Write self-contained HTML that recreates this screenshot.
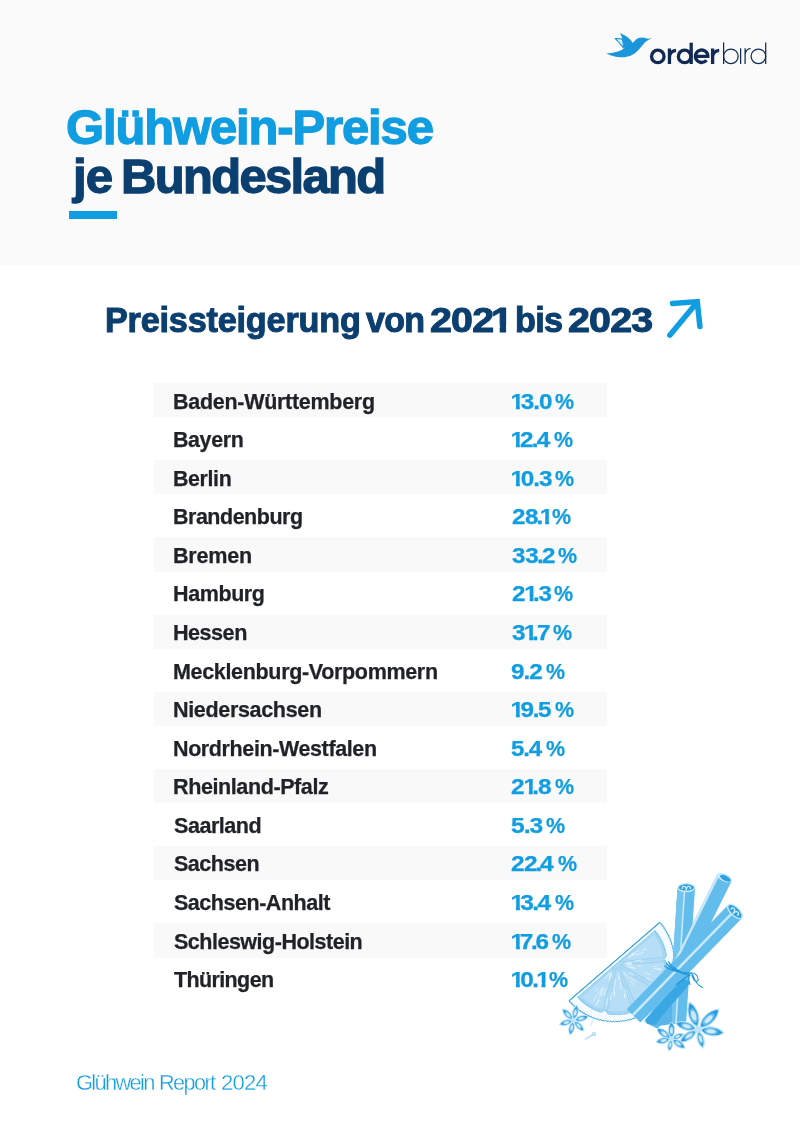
<!DOCTYPE html>
<html><head><meta charset="utf-8">
<style>
html,body{margin:0;padding:0;}
body{width:800px;height:1132px;position:relative;background:#fff;font-family:"Liberation Sans",sans-serif;overflow:hidden;}
.band{position:absolute;left:0;top:0;width:800px;height:265px;background:#fafafa;}
.bar{position:absolute;left:69px;top:210.5px;width:48.2px;height:8.5px;background:#109de1;}
.t{position:absolute;white-space:nowrap;transform-origin:0 50%;}
b{font-weight:inherit;margin:0 -0.06em}
i{font-style:normal;display:inline-block;margin:0 -0.15em 0 -0.06em;clip-path:polygon(0 0,100% 0,100% 0.73em,0.383em 0.73em,0.383em 1.1em,0.221em 1.1em,0.221em 0.73em,0 0.73em)}
.s{position:absolute;left:153.75px;width:453.25px;height:34.4px;background:#f9f9f9;}
svg{position:absolute;overflow:visible;}
#w{position:absolute;left:0;top:0;width:800px;height:1132px;will-change:transform;}
</style></head><body><div id="w">
<div class="band"></div>
<svg style="left:0;top:0" width="800" height="100" viewBox="0 0 800 100"><path d="M615.16 38.46 C615.78 38.52 617.67 38.69 618.88 38.80 C620.08 38.91 621.80 39.08 622.38 39.14 L623.94 48.25 C623.49 47.74 622.19 46.34 621.24 45.21 C620.28 44.09 619.21 42.62 618.20 41.50 C617.19 40.38 615.67 38.97 615.16 38.46Z" fill="#e3f1fa" stroke="#1b96db" stroke-width="1.1" stroke-linejoin="round"/><path d="M606.18 53.31 C607.17 53.73 609.90 55.16 612.12 55.81 C614.35 56.46 617.07 57.08 619.55 57.23 C622.02 57.37 624.61 57.24 626.98 56.69 C629.34 56.14 631.70 55.18 633.73 53.92 C635.75 52.66 637.55 50.71 639.12 49.13 C640.70 47.54 641.88 45.76 643.17 44.40 C644.47 43.04 645.29 42.05 646.89 40.96 C648.49 39.87 651.78 38.37 652.76 37.86 C652.06 38.01 649.84 38.77 648.58 38.80 C647.32 38.83 646.33 38.29 645.20 38.06 C644.08 37.82 642.95 37.38 641.83 37.38 C640.70 37.38 639.58 37.55 638.45 38.06 C637.33 38.56 636.03 39.60 635.08 40.42 C634.12 41.24 633.11 42.56 632.71 42.98 C632.32 42.46 631.31 40.85 630.35 39.81 C629.39 38.78 628.21 37.67 626.98 36.77 C625.74 35.88 624.11 35.03 622.92 34.41 C621.74 33.79 620.39 33.29 619.89 33.06 C620.13 33.57 620.96 35.09 621.37 36.10 C621.79 37.11 622.10 38.12 622.38 39.14 C622.67 40.15 622.83 41.11 623.06 42.17 C623.28 43.24 623.53 44.48 623.74 45.55 C623.94 46.62 624.18 48.08 624.27 48.59 C623.38 49.04 620.79 50.61 618.88 51.29 C616.96 51.96 614.88 52.30 612.80 52.64 C610.72 52.98 607.46 53.20 606.39 53.31Z" fill="#1b96db"/><g fill="none" stroke="#102a54" stroke-width="1.25" stroke-linecap="butt"><path d="M723.6 42.4V64"/><circle cx="730.9" cy="56.3" r="7.3"/><path d="M740.6 48.3V64"/><path d="M745.1 48.3V64M745.1 55.5C745.1 51 747.5 48.6 750.6 48.7"/><circle cx="758.4" cy="56.3" r="7.3"/><path d="M765.7 42.4V64"/></g><g fill="none" stroke="#102a54" stroke-width="3.3" stroke-linecap="butt"><circle cx="657.8" cy="56.4" r="6.25"/><path d="M669.45 48.5V64M669.45 57.2A6.6 6.6 0 0 1 676.05 50.4"/><circle cx="684.6" cy="56.4" r="6.25"/><path d="M691.2 42.7V64"/><path d="M707.9 56.4A6.25 6.25 0 1 0 706.5 60.2M695.5 56.4H709.4"/><path d="M712.6 48.5V64M712.6 57.2A6.6 6.6 0 0 1 719.2 50.4"/></g></svg>
<div class="bar"></div>
<svg style="left:0;top:0" width="800" height="400" viewBox="0 0 800 400"><path d="M672.5 303.5 L697.3 301.6 L699.9 326.6 M669.8 335.2 L696.5 303" stroke="#109de1" stroke-width="5.5" fill="none" stroke-linecap="round" stroke-linejoin="miter"/></svg>

<div class='s' style='top:382.9px'></div>
<div class='s' style='top:460.1px'></div>
<div class='s' style='top:537.3px'></div>
<div class='s' style='top:614.5px'></div>
<div class='s' style='top:691.7px'></div>
<div class='s' style='top:768.9px'></div>
<div class='s' style='top:846.1px'></div>
<div class='s' style='top:923.3px'></div>
<div class='t' style='left:66.08px;top:97.82px;line-height:59px;color:#109de1;font-size:49px;font-weight:bold;letter-spacing:-1.152px;-webkit-text-stroke:1.3px currentColor;transform:scaleX(1.0004)'>Glühwein-Preise</div>
<div class='t' style='left:73.42px;top:146.82px;line-height:59px;color:#0b3f6f;font-size:49px;font-weight:bold;letter-spacing:-0.806px;-webkit-text-stroke:1.3px currentColor;transform:scaleX(1.0035)'>je</div>
<div class='t' style='left:121.37px;top:146.82px;line-height:59px;color:#0b3f6f;font-size:49px;font-weight:bold;letter-spacing:-1.673px;-webkit-text-stroke:1.3px currentColor;transform:scaleX(0.9992)'>Bundesland</div>
<div class='t' style='left:105.00px;top:300.45px;line-height:41px;color:#0b3f6f;font-size:34.2px;font-weight:bold;letter-spacing:-0.207px;-webkit-text-stroke:1px currentColor;transform:scaleX(1.0012)'>Preissteigerung</div>
<div class='t' style='left:366.00px;top:300.45px;line-height:41px;color:#0b3f6f;font-size:34.2px;font-weight:bold;letter-spacing:-0.710px;-webkit-text-stroke:1px currentColor;transform:scaleX(0.9946)'>von</div>
<div class='t' style='left:430.47px;top:300.45px;line-height:41px;color:#0b3f6f;font-size:34.2px;font-weight:bold;letter-spacing:-0.654px;-webkit-text-stroke:1px currentColor;transform:scaleX(1.1502)'>202<i>1</i></div>
<div class='t' style='left:514.50px;top:300.45px;line-height:41px;color:#0b3f6f;font-size:34.2px;font-weight:bold;letter-spacing:-0.701px;-webkit-text-stroke:1px currentColor;transform:scaleX(1.0004)'>bis</div>
<div class='t' style='left:568.47px;top:300.45px;line-height:41px;color:#0b3f6f;font-size:34.2px;font-weight:bold;letter-spacing:-0.724px;-webkit-text-stroke:1px currentColor;transform:scaleX(1.1523)'>2023</div>
<div class='t' style='left:172.97px;top:388.55px;line-height:26px;color:#1f2226;font-size:21.5px;font-weight:bold;letter-spacing:-0.283px;-webkit-text-stroke:0.25px currentColor;transform:scaleX(0.9997)'>Baden-Württemberg</div>
<div class='t' style='left:512.30px;top:388.55px;line-height:26px;color:#109de1;font-size:21.5px;font-weight:bold;letter-spacing:0.346px;-webkit-text-stroke:0.25px currentColor;transform:scaleX(1.1267)'><i>1</i>3<b>.</b>0</div>
<div class='t' style='left:555.43px;top:388.55px;line-height:26px;color:#109de1;font-size:21.5px;font-weight:bold;letter-spacing:0.000px;-webkit-text-stroke:0.25px currentColor;transform:scaleX(0.9985)'>%</div>
<div class='t' style='left:172.98px;top:427.12px;line-height:26px;color:#1f2226;font-size:21.5px;font-weight:bold;letter-spacing:-0.371px;-webkit-text-stroke:0.25px currentColor;transform:scaleX(0.9954)'>Bayern</div>
<div class='t' style='left:512.30px;top:427.12px;line-height:26px;color:#109de1;font-size:21.5px;font-weight:bold;letter-spacing:-0.314px;-webkit-text-stroke:0.25px currentColor;transform:scaleX(1.1292)'><i>1</i>2<b>.</b>4</div>
<div class='t' style='left:554.23px;top:427.12px;line-height:26px;color:#109de1;font-size:21.5px;font-weight:bold;letter-spacing:0.000px;-webkit-text-stroke:0.25px currentColor;transform:scaleX(0.9985)'>%</div>
<div class='t' style='left:172.98px;top:465.69px;line-height:26px;color:#1f2226;font-size:21.5px;font-weight:bold;letter-spacing:-0.371px;-webkit-text-stroke:0.25px currentColor;transform:scaleX(0.9944)'>Berlin</div>
<div class='t' style='left:512.30px;top:465.69px;line-height:26px;color:#109de1;font-size:21.5px;font-weight:bold;letter-spacing:0.321px;-webkit-text-stroke:0.25px currentColor;transform:scaleX(1.1296)'><i>1</i>0<b>.</b>3</div>
<div class='t' style='left:555.43px;top:465.69px;line-height:26px;color:#109de1;font-size:21.5px;font-weight:bold;letter-spacing:0.000px;-webkit-text-stroke:0.25px currentColor;transform:scaleX(0.9985)'>%</div>
<div class='t' style='left:172.97px;top:504.26px;line-height:26px;color:#1f2226;font-size:21.5px;font-weight:bold;letter-spacing:-0.489px;-webkit-text-stroke:0.25px currentColor;transform:scaleX(0.9995)'>Brandenburg</div>
<div class='t' style='left:511.50px;top:504.26px;line-height:26px;color:#109de1;font-size:21.5px;font-weight:bold;letter-spacing:-0.455px;-webkit-text-stroke:0.25px currentColor;transform:scaleX(1.1236)'>28<b>.</b><i>1</i></div>
<div class='t' style='left:552.03px;top:504.26px;line-height:26px;color:#109de1;font-size:21.5px;font-weight:bold;letter-spacing:0.000px;-webkit-text-stroke:0.25px currentColor;transform:scaleX(0.9985)'>%</div>
<div class='t' style='left:172.96px;top:542.83px;line-height:26px;color:#1f2226;font-size:21.5px;font-weight:bold;letter-spacing:-0.262px;-webkit-text-stroke:0.25px currentColor;transform:scaleX(1.0043)'>Bremen</div>
<div class='t' style='left:511.54px;top:542.83px;line-height:26px;color:#109de1;font-size:21.5px;font-weight:bold;letter-spacing:-0.253px;-webkit-text-stroke:0.25px currentColor;transform:scaleX(1.1237)'>33<b>.</b>2</div>
<div class='t' style='left:557.63px;top:542.83px;line-height:26px;color:#109de1;font-size:21.5px;font-weight:bold;letter-spacing:0.000px;-webkit-text-stroke:0.25px currentColor;transform:scaleX(0.9985)'>%</div>
<div class='t' style='left:172.97px;top:581.40px;line-height:26px;color:#1f2226;font-size:21.5px;font-weight:bold;letter-spacing:-0.389px;-webkit-text-stroke:0.25px currentColor;transform:scaleX(0.9993)'>Hamburg</div>
<div class='t' style='left:511.50px;top:581.40px;line-height:26px;color:#109de1;font-size:21.5px;font-weight:bold;letter-spacing:0.237px;-webkit-text-stroke:0.25px currentColor;transform:scaleX(1.1232)'>2<i>1</i><b>.</b>3</div>
<div class='t' style='left:554.23px;top:581.40px;line-height:26px;color:#109de1;font-size:21.5px;font-weight:bold;letter-spacing:0.000px;-webkit-text-stroke:0.25px currentColor;transform:scaleX(0.9985)'>%</div>
<div class='t' style='left:172.96px;top:619.97px;line-height:26px;color:#1f2226;font-size:21.5px;font-weight:bold;letter-spacing:-0.502px;-webkit-text-stroke:0.25px currentColor;transform:scaleX(1.0047)'>Hessen</div>
<div class='t' style='left:511.53px;top:619.97px;line-height:26px;color:#109de1;font-size:21.5px;font-weight:bold;letter-spacing:-0.250px;-webkit-text-stroke:0.25px currentColor;transform:scaleX(1.1312)'>3<i>1</i><b>.</b>7</div>
<div class='t' style='left:552.53px;top:619.97px;line-height:26px;color:#109de1;font-size:21.5px;font-weight:bold;letter-spacing:0.000px;-webkit-text-stroke:0.25px currentColor;transform:scaleX(0.9985)'>%</div>
<div class='t' style='left:172.97px;top:658.54px;line-height:26px;color:#1f2226;font-size:21.5px;font-weight:bold;letter-spacing:-0.336px;-webkit-text-stroke:0.25px currentColor;transform:scaleX(1.0005)'>Mecklenburg-Vorpommern</div>
<div class='t' style='left:511.46px;top:658.54px;line-height:26px;color:#109de1;font-size:21.5px;font-weight:bold;letter-spacing:0.406px;-webkit-text-stroke:0.25px currentColor;transform:scaleX(1.1263)'>9<b>.</b>2</div>
<div class='t' style='left:545.83px;top:658.54px;line-height:26px;color:#109de1;font-size:21.5px;font-weight:bold;letter-spacing:0.000px;-webkit-text-stroke:0.25px currentColor;transform:scaleX(0.9985)'>%</div>
<div class='t' style='left:172.97px;top:697.11px;line-height:26px;color:#1f2226;font-size:21.5px;font-weight:bold;letter-spacing:-0.337px;-webkit-text-stroke:0.25px currentColor;transform:scaleX(1.0009)'>Niedersachsen</div>
<div class='t' style='left:512.30px;top:697.11px;line-height:26px;color:#109de1;font-size:21.5px;font-weight:bold;letter-spacing:0.090px;-webkit-text-stroke:0.25px currentColor;transform:scaleX(1.1285)'><i>1</i>9<b>.</b>5</div>
<div class='t' style='left:554.83px;top:697.11px;line-height:26px;color:#109de1;font-size:21.5px;font-weight:bold;letter-spacing:0.000px;-webkit-text-stroke:0.25px currentColor;transform:scaleX(0.9985)'>%</div>
<div class='t' style='left:172.97px;top:735.68px;line-height:26px;color:#1f2226;font-size:21.5px;font-weight:bold;letter-spacing:-0.384px;-webkit-text-stroke:0.25px currentColor;transform:scaleX(0.9994)'>Nordrhein-Westfalen</div>
<div class='t' style='left:511.49px;top:735.68px;line-height:26px;color:#109de1;font-size:21.5px;font-weight:bold;letter-spacing:0.259px;-webkit-text-stroke:0.25px currentColor;transform:scaleX(1.1183)'>5<b>.</b>4</div>
<div class='t' style='left:546.33px;top:735.68px;line-height:26px;color:#109de1;font-size:21.5px;font-weight:bold;letter-spacing:0.000px;-webkit-text-stroke:0.25px currentColor;transform:scaleX(0.9985)'>%</div>
<div class='t' style='left:172.97px;top:774.25px;line-height:26px;color:#1f2226;font-size:21.5px;font-weight:bold;letter-spacing:-0.421px;-webkit-text-stroke:0.25px currentColor;transform:scaleX(1.0026)'>Rheinland-Pfalz</div>
<div class='t' style='left:511.49px;top:774.25px;line-height:26px;color:#109de1;font-size:21.5px;font-weight:bold;letter-spacing:0.323px;-webkit-text-stroke:0.25px currentColor;transform:scaleX(1.1337)'>2<i>1</i><b>.</b>8</div>
<div class='t' style='left:554.83px;top:774.25px;line-height:26px;color:#109de1;font-size:21.5px;font-weight:bold;letter-spacing:0.000px;-webkit-text-stroke:0.25px currentColor;transform:scaleX(0.9985)'>%</div>
<div class='t' style='left:173.63px;top:812.82px;line-height:26px;color:#1f2226;font-size:21.5px;font-weight:bold;letter-spacing:-0.479px;-webkit-text-stroke:0.25px currentColor;transform:scaleX(1.0016)'>Saarland</div>
<div class='t' style='left:511.47px;top:812.82px;line-height:26px;color:#109de1;font-size:21.5px;font-weight:bold;letter-spacing:0.461px;-webkit-text-stroke:0.25px currentColor;transform:scaleX(1.1424)'>5<b>.</b>3</div>
<div class='t' style='left:546.33px;top:812.82px;line-height:26px;color:#109de1;font-size:21.5px;font-weight:bold;letter-spacing:0.000px;-webkit-text-stroke:0.25px currentColor;transform:scaleX(0.9985)'>%</div>
<div class='t' style='left:173.63px;top:851.39px;line-height:26px;color:#1f2226;font-size:21.5px;font-weight:bold;letter-spacing:-0.498px;-webkit-text-stroke:0.25px currentColor;transform:scaleX(1.0009)'>Sachsen</div>
<div class='t' style='left:511.48px;top:851.39px;line-height:26px;color:#109de1;font-size:21.5px;font-weight:bold;letter-spacing:-0.606px;-webkit-text-stroke:0.25px currentColor;transform:scaleX(1.1400)'>22<b>.</b>4</div>
<div class='t' style='left:557.63px;top:851.39px;line-height:26px;color:#109de1;font-size:21.5px;font-weight:bold;letter-spacing:0.000px;-webkit-text-stroke:0.25px currentColor;transform:scaleX(0.9985)'>%</div>
<div class='t' style='left:173.63px;top:889.96px;line-height:26px;color:#1f2226;font-size:21.5px;font-weight:bold;letter-spacing:-0.466px;-webkit-text-stroke:0.25px currentColor;transform:scaleX(0.9999)'>Sachsen-Anhalt</div>
<div class='t' style='left:512.30px;top:889.96px;line-height:26px;color:#109de1;font-size:21.5px;font-weight:bold;letter-spacing:-0.200px;-webkit-text-stroke:0.25px currentColor;transform:scaleX(1.1408)'><i>1</i>3<b>.</b>4</div>
<div class='t' style='left:554.83px;top:889.96px;line-height:26px;color:#109de1;font-size:21.5px;font-weight:bold;letter-spacing:0.000px;-webkit-text-stroke:0.25px currentColor;transform:scaleX(0.9985)'>%</div>
<div class='t' style='left:173.63px;top:928.53px;line-height:26px;color:#1f2226;font-size:21.5px;font-weight:bold;letter-spacing:-0.497px;-webkit-text-stroke:0.25px currentColor;transform:scaleX(1.0004)'>Schleswig-Holstein</div>
<div class='t' style='left:512.30px;top:928.53px;line-height:26px;color:#109de1;font-size:21.5px;font-weight:bold;letter-spacing:-0.687px;-webkit-text-stroke:0.25px currentColor;transform:scaleX(1.1293)'><i>1</i>7<b>.</b>6</div>
<div class='t' style='left:552.03px;top:928.53px;line-height:26px;color:#109de1;font-size:21.5px;font-weight:bold;letter-spacing:0.000px;-webkit-text-stroke:0.25px currentColor;transform:scaleX(0.9985)'>%</div>
<div class='t' style='left:174.39px;top:967.10px;line-height:26px;color:#1f2226;font-size:21.5px;font-weight:bold;letter-spacing:-0.638px;-webkit-text-stroke:0.25px currentColor;transform:scaleX(1.0012)'>Thüringen</div>
<div class='t' style='left:512.30px;top:967.10px;line-height:26px;color:#109de1;font-size:21.5px;font-weight:bold;letter-spacing:-0.052px;-webkit-text-stroke:0.25px currentColor;transform:scaleX(1.1287)'><i>1</i>0<b>.</b><i>1</i></div>
<div class='t' style='left:549.13px;top:967.10px;line-height:26px;color:#109de1;font-size:21.5px;font-weight:bold;letter-spacing:0.000px;-webkit-text-stroke:0.25px currentColor;transform:scaleX(0.9985)'>%</div>
<div class='t' style='left:75.80px;top:1070.05px;line-height:26px;color:#109de1;font-size:21.8px;font-weight:normal;letter-spacing:-1.699px;-webkit-text-stroke:0.35px #fff;transform:scaleX(1.0046)'>Glühwein</div>
<div class='t' style='left:158.57px;top:1070.05px;line-height:26px;color:#109de1;font-size:21.8px;font-weight:normal;letter-spacing:-1.605px;-webkit-text-stroke:0.35px #fff;transform:scaleX(0.9946)'>Report</div>
<div class='t' style='left:220.94px;top:1070.05px;line-height:26px;color:#109de1;font-size:21.8px;font-weight:normal;letter-spacing:-0.769px;-webkit-text-stroke:0.35px #fff;transform:scaleX(1.0143)'>2024</div>
<svg style="left:0;top:0" width="800" height="1132" viewBox="0 0 800 1132"><polygon points="659.4,922.7 661.1,923.0 661.0,924.6 662.6,925.0 662.5,926.6 664.1,927.0 663.9,928.7 665.5,929.1 665.3,930.8 666.8,931.3 666.5,932.9 668.1,933.5 667.7,935.1 669.2,935.8 668.7,937.4 670.2,938.1 669.7,939.7 671.2,940.5 670.6,942.0 672.0,942.9 671.3,944.4 672.7,945.3 672.0,946.8 673.4,947.7 672.6,949.2 673.9,950.2 673.0,951.7 674.3,952.7 673.4,954.1 674.6,955.2 673.7,956.6 674.9,957.8 673.8,959.1 675.0,960.3 673.9,961.6 675.0,962.8 673.8,964.1 674.9,965.4 673.7,966.6 674.6,967.9 673.4,969.0 674.3,970.4 673.0,971.5 673.9,972.9 672.6,973.9 673.4,975.4 672.0,976.4 672.7,977.9 671.3,978.8 672.0,980.3 670.6,981.1 671.2,982.7 669.7,983.5 670.3,985.0 668.7,985.8 669.2,987.4 667.7,988.0 668.1,989.6 666.5,990.2 666.9,991.9 665.3,992.4 665.6,994.0 664.0,994.5 664.2,996.1 662.5,996.5 662.7,998.2 661.0,998.5 661.1,1000.2 659.4,1000.4 659.4,1002.1 657.8,1002.3 657.7,1004.0 656.0,1004.1 655.9,1005.7 654.2,1005.8 654.0,1007.4 652.3,1007.4 652.0,1009.1 650.4,1009.0 650.0,1010.6 648.4,1010.4 647.9,1012.0 646.3,1011.8 645.8,1013.4 644.2,1013.1 643.6,1014.7 642.0,1014.3 641.4,1015.8 639.7,1015.4 639.1,1016.9 637.5,1016.4 636.7,1017.9 635.2,1017.3 634.3,1018.8 632.8,1018.2 631.9,1019.6 630.4,1018.9 629.5,1020.3 628.0,1019.5 627.0,1020.8 625.6,1020.0 624.5,1021.3 623.1,1020.4 622.0,1021.7 620.6,1020.7 619.5,1022.0 618.2,1021.0 617.0,1022.1 615.7,1021.1 614.4,1022.2 613.2,1021.1 611.9,1022.1 610.7,1021.0 609.4,1022.0 608.2,1020.7 606.8,1021.7 605.7,1020.4 604.3,1021.3 603.3,1020.0 601.8,1020.9 600.8,1019.5 599.4,1020.3 598.4,1018.9 596.9,1019.6 596.0,1018.2 594.5,1018.8 593.7,1017.4 592.1,1017.9 591.4,1016.4 589.8,1016.9 589.1,1015.4 587.5,1015.9 586.9,1014.3 585.2,1014.7 584.7,1013.1 583.0,1013.4 582.6,1011.8 580.9,1012.1 580.5,1010.5 578.8,1010.6 578.5,1009.0 576.8,1009.1 576.5,1007.4 574.8,1007.5 574.6,1005.8 573.0,1005.8 572.8,1004.1 571.1,1004.0 571.1,1002.3 569.4,1002.2 569.4,1000.5" fill="#f4fafe" stroke="#36a3e4" stroke-width="0.95" stroke-linejoin="round"/><polygon points="655.1,929.9 656.0,930.9 656.8,932.0 657.6,933.0 658.4,934.1 659.1,935.3 659.9,936.4 660.6,937.6 661.2,938.7 661.9,939.9 662.5,941.1 663.0,942.3 663.6,943.6 664.1,944.8 664.6,946.1 665.0,947.4 665.4,948.7 665.8,950.0 666.1,951.3 666.4,952.6 666.7,953.9 666.9,955.2 666.4,956.7 665.4,958.1 664.4,959.5 665.7,960.7 666.8,962.0 667.6,963.3 667.6,964.6 667.6,966.0 667.5,967.3 667.4,968.7 667.2,970.0 667.0,971.3 666.8,972.7 666.6,974.0 666.3,975.3 665.9,976.6 665.6,977.9 665.2,979.2 664.8,980.5 664.3,981.8 663.8,983.0 663.3,984.3 662.7,985.5 662.1,986.7 660.8,987.5 659.2,988.1 657.6,988.7 657.9,990.4 658.1,992.1 658.0,993.6 657.2,994.7 656.3,995.8 655.5,996.8 654.6,997.8 653.7,998.8 652.7,999.8 651.8,1000.7 650.8,1001.7 649.8,1002.6 648.7,1003.4 647.7,1004.3 646.6,1005.1 645.5,1005.9 644.4,1006.6 643.3,1007.3 642.1,1008.0 640.9,1008.7 639.7,1009.3 638.2,1009.3 636.5,1008.8 634.9,1008.3 634.2,1009.8 633.3,1011.3 632.3,1012.5 631.0,1012.9 629.7,1013.3 628.4,1013.6 627.1,1013.9 625.8,1014.2 624.4,1014.4 623.1,1014.6 621.8,1014.8 620.4,1014.9 619.1,1015.0 617.7,1015.1 616.4,1015.1 615.0,1015.1 613.7,1015.0 612.3,1015.0 611.0,1014.8 609.7,1014.7 608.3,1014.5 607.1,1013.5 606.1,1012.2 605.0,1010.8 603.5,1011.6 602.0,1012.3 600.5,1012.7 599.2,1012.2 597.9,1011.8 596.7,1011.3 595.4,1010.8 594.2,1010.2 593.0,1009.6 591.8,1009.0 590.6,1008.3 589.4,1007.6 588.3,1006.9 587.2,1006.2 586.1,1005.4 585.0,1004.6 583.9,1003.8 582.9,1002.9 581.8,1002.0 580.8,1001.1 579.9,1000.2 578.9,999.2 578.0,998.3 577.1,997.2" fill="#8ecdf0" /><polygon points="654.1,931.8 654.9,932.8 655.7,933.8 656.5,934.8 657.3,935.9 658.0,937.0 658.7,938.1 659.4,939.2 660.0,940.3 660.6,941.4 661.2,942.6 661.7,943.8 662.3,945.0 662.8,946.2 663.2,947.4 663.6,948.6 664.0,949.8 664.4,951.1 664.7,952.3 665.0,953.6 665.3,954.9 665.5,956.2 664.9,957.5 664.0,958.9 663.0,960.3 664.2,961.4 665.4,962.6 666.1,963.9 666.1,965.2 666.1,966.5 666.0,967.8 665.9,969.1 665.8,970.4 665.6,971.6 665.4,972.9 665.1,974.2 664.8,975.5 664.5,976.7 664.2,978.0 663.8,979.2 663.4,980.4 663.0,981.7 662.5,982.9 662.0,984.1 661.4,985.2 660.9,986.4 659.6,987.2 658.0,987.8 656.4,988.3 656.7,989.9 657.0,991.6 656.8,993.1 656.1,994.1 655.3,995.1 654.5,996.1 653.6,997.1 652.7,998.1 651.8,999.0 650.9,999.9 650.0,1000.8 649.0,1001.6 648.0,1002.5 647.0,1003.3 646.0,1004.1 644.9,1004.8 643.8,1005.6 642.7,1006.2 641.6,1006.9 640.5,1007.6 639.4,1008.2 637.9,1008.1 636.2,1007.6 634.7,1007.0 633.9,1008.6 633.2,1010.0 632.2,1011.2 631.0,1011.6 629.7,1011.9 628.5,1012.3 627.2,1012.6 625.9,1012.8 624.6,1013.0 623.4,1013.2 622.1,1013.4 620.8,1013.5 619.5,1013.6 618.2,1013.7 616.9,1013.7 615.6,1013.7 614.3,1013.6 613.0,1013.6 611.7,1013.5 610.4,1013.3 609.2,1013.1 608.0,1012.2 607.0,1010.8 606.0,1009.5 604.6,1010.3 603.0,1011.0 601.6,1011.4 600.4,1010.9 599.1,1010.5 597.9,1010.0 596.7,1009.5 595.6,1009.0 594.4,1008.4 593.2,1007.8 592.1,1007.2 591.0,1006.5 589.9,1005.9 588.8,1005.1 587.7,1004.4 586.7,1003.6 585.7,1002.8 584.7,1002.0 583.7,1001.2 582.7,1000.3 581.8,999.4 580.9,998.5 580.0,997.5 579.2,996.5" fill="#b1dbf5" /><polygon points="619.8,962.0 654.4,933.7 655.9,935.8 657.3,937.9 658.6,940.1 659.8,942.4 660.8,944.7 661.8,947.1 662.6,949.6 663.2,952.0 663.8,954.5 664.2,957.1" fill="#b6def6" stroke="#93cff1" stroke-width="0.8" stroke-linejoin="round"/><polygon points="620.0,964.5 664.6,961.9 664.6,964.5 664.5,967.0 664.2,969.6 663.9,972.1 663.3,974.6 662.7,977.1 661.9,979.5 661.0,981.9 660.0,984.3 658.8,986.6" fill="#b6def6" stroke="#93cff1" stroke-width="0.8" stroke-linejoin="round"/><polygon points="618.7,966.6 656.3,990.7 654.8,992.8 653.2,994.8 651.5,996.7 649.7,998.6 647.8,1000.3 645.8,1001.9 643.8,1003.4 641.6,1004.8 639.4,1006.1 637.1,1007.3" fill="#b6def6" stroke="#93cff1" stroke-width="0.8" stroke-linejoin="round"/><polygon points="616.4,967.6 632.7,1009.2 630.2,1010.0 627.8,1010.7 625.3,1011.2 622.7,1011.6 620.2,1011.9 617.6,1012.1 615.1,1012.1 612.5,1012.0 610.0,1011.7 607.4,1011.3" fill="#b6def6" stroke="#93cff1" stroke-width="0.8" stroke-linejoin="round"/><polygon points="614.0,967.0 602.7,1010.2 600.2,1009.4 597.8,1008.5 595.5,1007.5 593.2,1006.3 591.0,1005.1 588.8,1003.7 586.8,1002.2 584.8,1000.6 582.8,998.9 581.0,997.1" fill="#b6def6" stroke="#93cff1" stroke-width="0.8" stroke-linejoin="round"/><path d="M627.6 964.6L632.5 964.9M636.1 955.1L643.2 952.5M615.2 979.1L615.1 984.8M627.7 962.5L631.7 962.4M607.6 998.0L606.4 1004.9M644.1 972.4L650.3 974.9M611.9 973.7L609.5 979.2M625.1 974.4L628.8 978.3M596.6 995.5L593.9 1000.6M603.6 988.0L599.8 994.4M630.1 980.6L634.0 985.2M634.3 961.3L641.3 959.9M642.4 950.6L646.4 948.7M630.2 977.3L636.1 982.7M628.4 972.0L633.5 975.4M646.3 977.8L650.5 979.8M611.0 973.8L609.7 976.8M614.5 992.5L614.4 996.7M639.6 961.7L642.9 961.7M599.0 1000.3L595.4 1005.9M631.4 954.4L638.3 950.6M649.2 986.1L653.9 990.1M630.1 967.3L635.3 968.3M651.5 983.6L656.0 985.1M628.4 957.4L634.6 954.2M627.1 966.4L634.7 968.3M626.1 963.7L629.4 963.5M618.7 976.4L619.3 979.5M657.7 969.0L661.3 969.5M614.3 985.4L613.7 993.3M637.9 966.0L641.1 966.2M654.0 968.5L661.1 969.4M630.7 955.6L634.3 953.3M653.6 966.5L657.3 966.1M602.3 987.1L598.4 994.0M602.9 990.8L599.6 996.9M623.5 971.9L626.1 975.1M599.0 999.1L596.8 1003.2M611.4 993.1L610.3 1000.0M624.3 993.8L624.8 998.2M610.1 972.2L605.3 978.4M618.2 972.8L620.1 980.1M597.6 988.1L596.0 991.0M624.7 989.5L626.3 996.1M624.2 963.9L631.8 963.9M611.7 974.7L608.9 981.1M606.1 988.4L603.7 995.4M620.2 982.4L621.5 989.7" stroke="#ecf7fd" stroke-width="0.75" fill="none" stroke-linecap="round"/><path d="M659.8 922.4L569.0 1000.8" stroke="#36a3e4" stroke-width="1.1" fill="none"/><polygon points="677.5,888.0 695.0,888.0 686.0,1024.0 668.6,1024.0" fill="#62bcec" /><polygon points="677.5,888.0 684.0,888.0 675.4,1024.0 668.6,1024.0" fill="#74c5ee" /><path d="M684.6 890L675.9 1024" stroke="#c9e8f9" stroke-width="1.6"/><ellipse cx="686.3" cy="887.6" rx="8.3" ry="3.9" fill="#2ea1e3" stroke="#cdeafa" stroke-width="1.3"/><path d="M682.3 888.6c-1.2-2.2 2.6-3.2 3.6-0.6l0.4 2.2l0.4-2.2c1-2.6 4.8-1.6 3.6 0.6" fill="none" stroke="#d9effb" stroke-width="1.2" stroke-linecap="round" stroke-linejoin="round"/><polygon points="717.3,874.3 731.5,881.3 658.1,1029.1 644.0,1022.1" fill="#62bcec" /><polygon points="717.3,874.3 719.5,875.4 646.1,1023.1 644.0,1022.1" fill="#c9e8f9" /><ellipse cx="724.4" cy="877.6" rx="7.9" ry="3.9" transform="rotate(26.4 724.4 877.6)" fill="#cdeafa"/><ellipse cx="725.4" cy="878.3" rx="5.9" ry="2.5" transform="rotate(26.4 725.4 878.3)" fill="#2ea1e3"/><polygon points="689.0,983.0 672.0,999.0 672.0,1024.0 656.0,1026.5 649.0,1022.0" fill="#5ab6ea" /><polygon points="682.5,978.5 645.0,1020.0 647.5,1024.0 655.5,1025.0 662.5,1015.5 687.5,986.5 690.0,982.0" fill="#3aa7e5" /><polygon points="728.1,904.9 741.9,918.3 640.4,1022.6 626.7,1009.2" fill="#62bcec" /><polygon points="733.4,910.0 735.2,911.8 633.8,1016.1 631.9,1014.3" fill="#c9e8f9" /><ellipse cx="735" cy="911.4" rx="9.3" ry="4.3" transform="rotate(44.2 735 911.4)" fill="#2ea1e3" stroke="#cdeafa" stroke-width="1.4"/><g transform="rotate(44.2 735 911.4)"><path d="M730.6 912.4c-1.3-2.4 2.9-3.5 4-0.6l0.4 2.4l0.4-2.4c1.1-2.9 5.3-1.8 4 0.6" fill="none" stroke="#d9effb" stroke-width="1.3" stroke-linecap="round" stroke-linejoin="round"/></g><path d="M665 966C668 969 677 972.5 691.3 973.1M668.7 961.9C670 965 677 971 686 973.8M666.5 963.5C670 968 680 973.5 690 975.5" fill="none" stroke="#1f97de" stroke-width="1.25" stroke-linecap="round"/><path d="M691.3 973.1C694 972.5 698 975 698.1 979.4C698 982 695 982 693.5 979C692.5 977 692 975.5 691.9 975M690 973.8C688.5 977 688.5 981 690 984.4M692.5 974.4C694 979 697 985.5 702.5 987.5M688.7 975C685 978 680 982 676.2 984.4" fill="none" stroke="#1f97de" stroke-width="1.15" stroke-linecap="round"/><g transform="translate(698.0 1029.5) rotate(-17.2)"><path d="M0 -2.9 C 6.1 -8.6 6.8 -20.7 0 -28.8 C -6.8 -20.7 -6.1 -8.6 0 -2.9 Z" fill="#2d9de1" stroke="#c3e5f8" stroke-width="1.3" stroke-linejoin="round"/><ellipse cx="0" cy="-14.4" rx="3.5" ry="7.5" fill="#6fc0ed"/><ellipse cx="0" cy="-14.4" rx="2.2" ry="4.9" fill="#cdeafa"/></g><g transform="translate(698.0 1029.5) rotate(45.7)"><path d="M0 -2.9 C 6.2 -8.8 6.9 -21.1 0 -29.3 C -6.9 -21.1 -6.2 -8.8 0 -2.9 Z" fill="#2d9de1" stroke="#c3e5f8" stroke-width="1.3" stroke-linejoin="round"/><ellipse cx="0" cy="-14.7" rx="3.6" ry="7.6" fill="#6fc0ed"/><ellipse cx="0" cy="-14.7" rx="2.2" ry="5.0" fill="#cdeafa"/></g><g transform="translate(698.0 1029.5) rotate(97.7)"><path d="M0 -2.6 C 5.5 -7.9 6.2 -18.9 0 -26.2 C -6.2 -18.9 -5.5 -7.9 0 -2.6 Z" fill="#2d9de1" stroke="#c3e5f8" stroke-width="1.3" stroke-linejoin="round"/><ellipse cx="0" cy="-13.1" rx="3.2" ry="6.8" fill="#6fc0ed"/><ellipse cx="0" cy="-13.1" rx="2.0" ry="4.5" fill="#cdeafa"/></g><g transform="translate(698.0 1029.5) rotate(164.9)"><path d="M0 -1.9 C 4.1 -5.7 4.5 -13.8 0 -19.2 C -4.5 -13.8 -4.1 -5.7 0 -1.9 Z" fill="#2d9de1" stroke="#c3e5f8" stroke-width="1.3" stroke-linejoin="round"/><ellipse cx="0" cy="-9.6" rx="2.3" ry="5.0" fill="#6fc0ed"/><ellipse cx="0" cy="-9.6" rx="1.4" ry="3.3" fill="#cdeafa"/></g><g transform="translate(698.0 1029.5) rotate(-124.8)"><path d="M0 -2.2 C 4.6 -6.6 5.1 -15.8 0 -21.9 C -5.1 -15.8 -4.6 -6.6 0 -2.2 Z" fill="#2d9de1" stroke="#c3e5f8" stroke-width="1.3" stroke-linejoin="round"/><ellipse cx="0" cy="-11.0" rx="2.7" ry="5.7" fill="#6fc0ed"/><ellipse cx="0" cy="-11.0" rx="1.6" ry="3.7" fill="#cdeafa"/></g><g transform="translate(698.0 1029.5) rotate(-73.9)"><path d="M0 -2.3 C 5.0 -7.0 5.5 -16.9 0 -23.4 C -5.5 -16.9 -5.0 -7.0 0 -2.3 Z" fill="#2d9de1" stroke="#c3e5f8" stroke-width="1.3" stroke-linejoin="round"/><ellipse cx="0" cy="-11.7" rx="2.9" ry="6.1" fill="#6fc0ed"/><ellipse cx="0" cy="-11.7" rx="1.8" ry="4.0" fill="#cdeafa"/></g><circle cx="698.0" cy="1029.5" r="3.6" fill="#bfe3f8"/><g transform="translate(671.5 1039.0) rotate(-54.1)"><path d="M0 -1.8 C 4.2 -5.4 4.7 -12.9 0 -17.9 C -4.7 -12.9 -4.2 -5.4 0 -1.8 Z" fill="#2d9de1" stroke="#c3e5f8" stroke-width="1.0" stroke-linejoin="round"/><ellipse cx="0" cy="-9.0" rx="2.4" ry="4.7" fill="#6fc0ed"/><ellipse cx="0" cy="-9.0" rx="1.5" ry="3.0" fill="#cdeafa"/></g><g transform="translate(671.5 1039.0) rotate(0.0)"><path d="M0 -1.7 C 4.0 -5.1 4.4 -12.2 0 -17.0 C -4.4 -12.2 -4.0 -5.1 0 -1.7 Z" fill="#2d9de1" stroke="#c3e5f8" stroke-width="1.0" stroke-linejoin="round"/><ellipse cx="0" cy="-8.5" rx="2.3" ry="4.4" fill="#6fc0ed"/><ellipse cx="0" cy="-8.5" rx="1.4" ry="2.9" fill="#cdeafa"/></g><g transform="translate(671.5 1039.0) rotate(67.4)"><path d="M0 -1.3 C 3.0 -3.9 3.4 -9.4 0 -13.0 C -3.4 -9.4 -3.0 -3.9 0 -1.3 Z" fill="#2d9de1" stroke="#c3e5f8" stroke-width="1.0" stroke-linejoin="round"/><ellipse cx="0" cy="-6.5" rx="1.8" ry="3.4" fill="#6fc0ed"/><ellipse cx="0" cy="-6.5" rx="1.1" ry="2.2" fill="#cdeafa"/></g><g transform="translate(671.5 1039.0) rotate(123.7)"><path d="M0 -1.6 C 3.8 -4.9 4.2 -11.7 0 -16.2 C -4.2 -11.7 -3.8 -4.9 0 -1.6 Z" fill="#2d9de1" stroke="#c3e5f8" stroke-width="1.0" stroke-linejoin="round"/><ellipse cx="0" cy="-8.1" rx="2.2" ry="4.2" fill="#6fc0ed"/><ellipse cx="0" cy="-8.1" rx="1.3" ry="2.8" fill="#cdeafa"/></g><g transform="translate(671.5 1039.0) rotate(-168.2)"><path d="M0 -1.2 C 2.9 -3.7 3.2 -8.8 0 -12.3 C -3.2 -8.8 -2.9 -3.7 0 -1.2 Z" fill="#2d9de1" stroke="#c3e5f8" stroke-width="1.0" stroke-linejoin="round"/><ellipse cx="0" cy="-6.1" rx="1.7" ry="3.2" fill="#6fc0ed"/><ellipse cx="0" cy="-6.1" rx="1.0" ry="2.1" fill="#cdeafa"/></g><g transform="translate(671.5 1039.0) rotate(-101.0)"><path d="M0 -1.6 C 3.7 -4.7 4.1 -11.4 0 -15.8 C -4.1 -11.4 -3.7 -4.7 0 -1.6 Z" fill="#2d9de1" stroke="#c3e5f8" stroke-width="1.0" stroke-linejoin="round"/><ellipse cx="0" cy="-7.9" rx="2.1" ry="4.1" fill="#6fc0ed"/><ellipse cx="0" cy="-7.9" rx="1.3" ry="2.7" fill="#cdeafa"/></g><circle cx="671.5" cy="1039.0" r="2.2" fill="#bfe3f8"/><g transform="translate(573.5 1020.5) rotate(12.7)"><path d="M0 -1.6 C 3.6 -4.8 4.0 -11.4 0 -15.9 C -4.0 -11.4 -3.6 -4.8 0 -1.6 Z" fill="#2d9de1" stroke="#c3e5f8" stroke-width="1.0" stroke-linejoin="round"/><ellipse cx="0" cy="-7.9" rx="2.1" ry="4.1" fill="#6fc0ed"/><ellipse cx="0" cy="-7.9" rx="1.3" ry="2.7" fill="#cdeafa"/></g><g transform="translate(573.5 1020.5) rotate(-43.7)"><path d="M0 -1.6 C 3.6 -4.8 4.0 -11.5 0 -15.9 C -4.0 -11.5 -3.6 -4.8 0 -1.6 Z" fill="#2d9de1" stroke="#c3e5f8" stroke-width="1.0" stroke-linejoin="round"/><ellipse cx="0" cy="-8.0" rx="2.1" ry="4.1" fill="#6fc0ed"/><ellipse cx="0" cy="-8.0" rx="1.3" ry="2.7" fill="#cdeafa"/></g><g transform="translate(573.5 1020.5) rotate(-105.9)"><path d="M0 -1.5 C 3.3 -4.4 3.6 -10.5 0 -14.6 C -3.6 -10.5 -3.3 -4.4 0 -1.5 Z" fill="#2d9de1" stroke="#c3e5f8" stroke-width="1.0" stroke-linejoin="round"/><ellipse cx="0" cy="-7.3" rx="1.9" ry="3.8" fill="#6fc0ed"/><ellipse cx="0" cy="-7.3" rx="1.2" ry="2.5" fill="#cdeafa"/></g><g transform="translate(573.5 1020.5) rotate(-166.4)"><path d="M0 -1.5 C 3.4 -4.5 3.7 -10.7 0 -14.9 C -3.7 -10.7 -3.4 -4.5 0 -1.5 Z" fill="#2d9de1" stroke="#c3e5f8" stroke-width="1.0" stroke-linejoin="round"/><ellipse cx="0" cy="-7.5" rx="1.9" ry="3.9" fill="#6fc0ed"/><ellipse cx="0" cy="-7.5" rx="1.2" ry="2.5" fill="#cdeafa"/></g><g transform="translate(573.5 1020.5) rotate(135.0)"><path d="M0 -1.5 C 3.3 -4.5 3.7 -10.7 0 -14.8 C -3.7 -10.7 -3.3 -4.5 0 -1.5 Z" fill="#2d9de1" stroke="#c3e5f8" stroke-width="1.0" stroke-linejoin="round"/><ellipse cx="0" cy="-7.4" rx="1.9" ry="3.9" fill="#6fc0ed"/><ellipse cx="0" cy="-7.4" rx="1.2" ry="2.5" fill="#cdeafa"/></g><g transform="translate(573.5 1020.5) rotate(75.1)"><path d="M0 -1.6 C 3.5 -4.7 3.9 -11.2 0 -15.5 C -3.9 -11.2 -3.5 -4.7 0 -1.6 Z" fill="#2d9de1" stroke="#c3e5f8" stroke-width="1.0" stroke-linejoin="round"/><ellipse cx="0" cy="-7.8" rx="2.0" ry="4.0" fill="#6fc0ed"/><ellipse cx="0" cy="-7.8" rx="1.2" ry="2.6" fill="#cdeafa"/></g><circle cx="573.5" cy="1020.5" r="2.2" fill="#bfe3f8"/><path d="M591 1025l2.5-6" stroke="#cfe9f9" stroke-width="1.2" stroke-linecap="round"/><path d="M585.3 1039l8-4.5" stroke="#bfe2f7" stroke-width="1.6" stroke-linecap="round"/><circle cx="594" cy="1034" r="1.8" fill="#d4ecfa" stroke="#8fcff1" stroke-width="0.7"/></svg>
</div></body></html>
